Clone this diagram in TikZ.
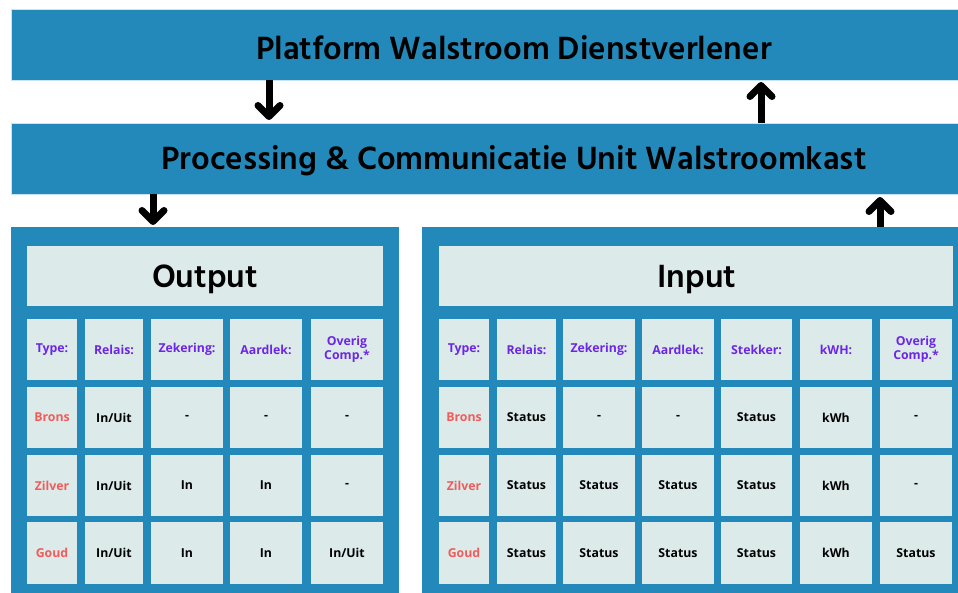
\documentclass[tikz,border=0pt]{standalone}
\usepackage{fontspec}
\setmainfont{Open Sans}
\newfontfamily\hind{Hind Siliguri}
\usetikzlibrary{arrows.meta}
\definecolor{panelblue}{RGB}{35,137,186}
\definecolor{barline}{RGB}{200,228,240}
\definecolor{cellbg}{RGB}{220,235,234}
\definecolor{hdrpurple}{RGB}{108,38,228}
\definecolor{tierred}{RGB}{240,92,92}
\newcommand\mycell[7]{\node[cell,#6,minimum width={(#3-#2)*1pt},minimum height={(#5-#4)*1pt}] (#1) at ({(#2+#3)/2},{(#4+#5)/2}) {#7};}
\begin{document}
\begin{tikzpicture}[x=1pt,y=-1pt,
  bar/.style={fill=panelblue,draw=barline,line width=0.8pt,inner sep=0pt,outer sep=0pt,anchor=north west},
  bigtxt/.style={font=\hind\bfseries\fontsize{33}{36}\selectfont},
  panel/.style={fill=panelblue,draw=none,inner sep=0pt,outer sep=0pt,anchor=north west},
  cell/.style={fill=cellbg,draw=none,inner sep=0pt,outer sep=0pt,align=center,font=\bfseries\fontsize{12.3}{14}\selectfont},
  hdr/.style={text=hdrpurple},
  tier/.style={text=tierred},
  arr/.style={line width=7pt,-{Straight Barb[length=11pt,width=22pt,round]}}]
\useasboundingbox (0,0) rectangle (958,593);
\fill[white] (0,0) rectangle (958,593);
% bars
\node[bar,minimum width=947pt,minimum height=71pt] (plat) at (11,9) {};
\node[bigtxt] (platt) at (514,48) {Platform Walstroom Dienstverlener};
\node[bar,minimum width=947pt,minimum height=71pt] (pcu) at (11,123) {};
\node[bigtxt] (pcut) at (514,161) {Processing \& Communicatie Unit Walstroomkast};
% panels
\node[panel,minimum width=388pt,minimum height=366pt] (outp) at (11,227) {};
\node[panel,minimum width=536pt,minimum height=366pt] (inp) at (422,227) {};
% arrows
\coordinate (a1) at (269,0);
\coordinate (a2) at (761,0);
\coordinate (a3) at (153,0);
\coordinate (a4) at (880,0);
\draw[arr,shorten >=3pt] (plat.south -| a1) -- (pcu.north -| a1);
\draw[arr,shorten >=2pt] (pcu.north -| a2) -- (plat.south -| a2);
\draw[arr,shorten >=2pt] (pcu.south -| a3) -- (outp.north -| a3);
\draw[arr,shorten >=3pt] (outp.north -| a4) -- (pcu.south -| a4);
% ---- Output table
\mycell{ot}{27}{383}{246}{306}{}{}
\node[bigtxt] (ott) at (205,279.5) {Output};
\mycell{o00}{27}{77}{319}{380}{hdr}{Type:}
\mycell{o01}{85}{143}{319}{380}{hdr}{Relais:}
\mycell{o02}{151}{223}{319}{380}{hdr}{Zekering:}
\mycell{o03}{230}{302}{319}{380}{hdr}{Aardlek:}
\mycell{o04}{311}{383}{319}{380}{hdr}{Overig\\Comp.*}
\mycell{o10}{27}{77}{387}{448}{tier}{Brons}
\mycell{o11}{85}{143}{387}{448}{}{In/Uit}
\mycell{o12}{151}{223}{387}{448}{}{-}
\mycell{o13}{230}{302}{387}{448}{}{-}
\mycell{o14}{311}{383}{387}{448}{}{-}
\mycell{o20}{27}{77}{455}{516}{tier}{Zilver}
\mycell{o21}{85}{143}{455}{516}{}{In/Uit}
\mycell{o22}{151}{223}{455}{516}{}{In}
\mycell{o23}{230}{302}{455}{516}{}{In}
\mycell{o24}{311}{383}{455}{516}{}{-}
\mycell{o30}{27}{77}{522}{584}{tier}{Goud}
\mycell{o31}{85}{143}{522}{584}{}{In/Uit}
\mycell{o32}{151}{223}{522}{584}{}{In}
\mycell{o33}{230}{302}{522}{584}{}{In}
\mycell{o34}{311}{383}{522}{584}{}{In/Uit}
% ---- Input table
\mycell{it}{439}{953}{246}{306}{}{}
\node[bigtxt] (itt) at (697,279.5) {Input};
\mycell{i00}{439}{489}{319}{380}{hdr}{Type:}
\mycell{i01}{497}{556}{319}{380}{hdr}{Relais:}
\mycell{i02}{563}{635}{319}{380}{hdr}{Zekering:}
\mycell{i03}{642}{714}{319}{380}{hdr}{Aardlek:}
\mycell{i04}{721}{792}{319}{380}{hdr}{Stekker:}
\mycell{i05}{800}{872}{319}{380}{hdr}{kWH:}
\mycell{i06}{880}{952}{319}{380}{hdr}{Overig\\Comp.*}
\mycell{i10}{439}{489}{387}{448}{tier}{Brons}
\mycell{i11}{497}{556}{387}{448}{}{Status}
\mycell{i12}{563}{635}{387}{448}{}{-}
\mycell{i13}{642}{714}{387}{448}{}{-}
\mycell{i14}{721}{792}{387}{448}{}{Status}
\mycell{i15}{800}{872}{387}{448}{}{kWh}
\mycell{i16}{880}{952}{387}{448}{}{-}
\mycell{i20}{439}{489}{455}{516}{tier}{Zilver}
\mycell{i21}{497}{556}{455}{516}{}{Status}
\mycell{i22}{563}{635}{455}{516}{}{Status}
\mycell{i23}{642}{714}{455}{516}{}{Status}
\mycell{i24}{721}{792}{455}{516}{}{Status}
\mycell{i25}{800}{872}{455}{516}{}{kWh}
\mycell{i26}{880}{952}{455}{516}{}{-}
\mycell{i30}{439}{489}{522}{584}{tier}{Goud}
\mycell{i31}{497}{556}{522}{584}{}{Status}
\mycell{i32}{563}{635}{522}{584}{}{Status}
\mycell{i33}{642}{714}{522}{584}{}{Status}
\mycell{i34}{721}{792}{522}{584}{}{Status}
\mycell{i35}{800}{872}{522}{584}{}{kWh}
\mycell{i36}{880}{952}{522}{584}{}{Status}
\end{tikzpicture}
\end{document}
